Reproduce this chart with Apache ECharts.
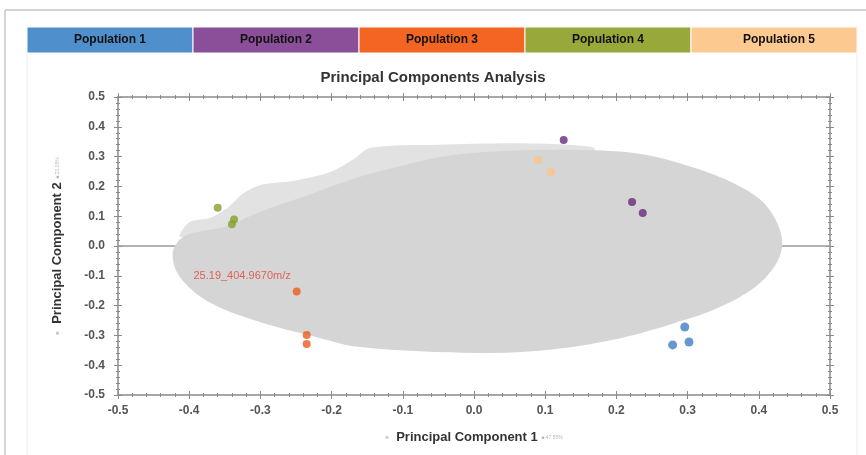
<!DOCTYPE html>
<html>
<head>
<meta charset="utf-8">
<script src="https://cdn.jsdelivr.net/npm/echarts@6/dist/echarts.min.js"></script>
<style>
  html, body { margin: 0; padding: 0; background: #ffffff; }
  #chart { width: 866px; height: 455px; }
</style>
</head>
<body>
<div id="chart"></div>
<script>
// Population scores on the first two principal components
const populations = ['Population 1', 'Population 2', 'Population 3', 'Population 4', 'Population 5'];
const bandColors = ['#4f8fcc', '#8a4f98', '#f26522', '#98a83a', '#fcc991'];
const dotColors = ['#3e7ec6', '#66297d', '#ec5a1e', '#86a02c', '#fcc58a'];

const pop1 = [[0.296, -0.272], [0.279, -0.332], [0.302, -0.322]];
const pop2 = [[0.126, 0.356], [0.222, 0.148], [0.237, 0.111]];
const pop3 = [[-0.249, -0.153], [-0.235, -0.299], [-0.235, -0.329]];
const pop4 = [[-0.360, 0.128], [-0.337, 0.089], [-0.340, 0.073]];
const pop5 = [[0.090, 0.289], [0.108, 0.248]];

// Outline of the dense variable-loading cloud (solid core)
const cloudCore = [
  [-0.423, -0.020], [-0.405, 0.035], [-0.350, 0.065], [-0.300, 0.115], [-0.240, 0.165],
  [-0.170, 0.225], [-0.100, 0.270], [-0.030, 0.305], [0.050, 0.320], [0.150, 0.322],
  [0.230, 0.310], [0.299, 0.270], [0.364, 0.211], [0.412, 0.131], [0.433, 0.003],
  [0.408, -0.110], [0.350, -0.200], [0.280, -0.260], [0.195, -0.315], [0.103, -0.349],
  [0.008, -0.359], [-0.160, -0.339], [-0.230, -0.300], [-0.301, -0.255], [-0.371, -0.190],
  [-0.413, -0.104]
];
// Sparser fringe of loading labels along the upper-left edge
const cloudFringe = [
  [-0.412, 0.030], [-0.400, 0.080], [-0.370, 0.095], [-0.345, 0.130], [-0.325, 0.175],
  [-0.300, 0.205], [-0.250, 0.220], [-0.200, 0.250], [-0.170, 0.290], [-0.145, 0.330],
  [-0.050, 0.340], [0.050, 0.345], [0.130, 0.340], [0.170, 0.325], [0.120, 0.250],
  [-0.100, 0.200], [-0.300, 0.060]
];

const markedLabel = '25.19_404.9670m/z';
const xTicks = { min: -0.5, max: 0.5, interval: 0.1 };
const yTicks = { min: -0.5, max: 0.5, interval: 0.1 };

const FONT = '"Liberation Sans", Arial, sans-serif';
const axisGray = '#8a8a8a';

function polygonSeries(points, color, z, smooth) {
  return {
    type: 'custom',
    silent: true,
    z: z,
    data: [0],
    renderItem: function (params, api) {
      return {
        type: 'polygon',
        shape: { points: points.map(p => api.coord(p)), smooth: smooth },
        style: { fill: color }
      };
    }
  };
}

function dotSeries(name, data, color, extra) {
  return Object.assign({
    name: name,
    type: 'scatter',
    data: data,
    symbolSize: 8,
    z: 5,
    itemStyle: { color: color }
  }, extra || {});
}

function makeAxis(kind, position, inside, withLabels, drawLine, ticks, extra) {
  return Object.assign({
    type: 'value',
    position: position,
    min: ticks.min, max: ticks.max, interval: ticks.interval,
    axisLine: { show: drawLine, onZero: false, lineStyle: { color: axisGray, width: 1.5 } },
    axisTick: { show: true, inside: inside, length: 4, lineStyle: { color: axisGray, width: 1 } },
    minorTick: { show: true, splitNumber: 5, length: 2, lineStyle: { color: axisGray, width: 1 } },
    splitLine: { show: false },
    minorSplitLine: { show: false },
    axisLabel: withLabels ? {
      show: true, fontFamily: FONT, fontSize: 12, fontWeight: 'bold', color: '#555555',
      margin: kind === 'x' ? 10 : 13,
      formatter: v => v.toFixed(1)
    } : { show: false }
  }, extra || {});
}

const headerGraphics = [];
const bandLeft = 27, bandW = 166, bandTop = 27, bandH = 26;
populations.forEach((name, i) => {
  headerGraphics.push({
    type: 'rect', silent: true,
    shape: { x: bandLeft + i * bandW, y: bandTop, width: bandW, height: bandH },
    style: { fill: bandColors[i], stroke: '#ffffff', lineWidth: 1 }
  });
  headerGraphics.push({
    type: 'text', silent: true,
    x: bandLeft + i * bandW + bandW / 2 + (i === 4 ? 5 : 0), y: bandTop + bandH / 2,
    style: {
      text: name, fill: '#111111', font: 'bold 12px ' + FONT,
      textAlign: 'center', textVerticalAlign: 'middle'
    }
  });
});

const chart = echarts.init(document.getElementById('chart'), null, { renderer: 'canvas' });

chart.setOption({
  animation: false,
  backgroundColor: '#ffffff',
  title: {
    text: 'Principal Components Analysis',
    left: 'center', top: 65,
    textStyle: { fontFamily: FONT, fontSize: 15, fontWeight: 'bold', color: '#333333' }
  },
  grid: { left: 118, right: 36, top: 97, bottom: 60, containLabel: false },
  xAxis: [
    makeAxis('x', 'bottom', false, true, true, xTicks, {
      name: '{sq|\u25A0}  Principal Component 1 {sm|\u25A0 47.55%}',
      nameLocation: 'middle', nameGap: 36,
      nameTextStyle: {
        fontFamily: FONT, fontSize: 13, fontWeight: 'bold', color: '#333333',
        rich: {
          sq: { fontSize: 6, color: '#d0d0d0' },
          sm: { fontSize: 5, color: '#b8b8b8', fontWeight: 'normal' }
        }
      }
    }),
    makeAxis('x', 'bottom', true, false, false, xTicks),
    makeAxis('x', 'top', true, false, true, xTicks),
    makeAxis('x', 'top', false, false, false, xTicks)
  ],
  yAxis: [
    makeAxis('y', 'left', false, true, true, yTicks, {
      name: '{sq|\u25A0}  Principal Component 2 {sm|\u25A0 21.05%}',
      nameLocation: 'middle', nameGap: 54,
      nameTextStyle: {
        fontFamily: FONT, fontSize: 13, fontWeight: 'bold', color: '#333333',
        rich: {
          sq: { fontSize: 6, color: '#c8c8c8' },
          sm: { fontSize: 5, color: '#b8b8b8', fontWeight: 'normal' }
        }
      }
    }),
    makeAxis('y', 'left', true, false, false, yTicks),
    makeAxis('y', 'right', true, false, true, yTicks),
    makeAxis('y', 'right', false, false, false, yTicks)
  ],
  graphic: [
    // outer frame
    { type: 'line', silent: true, z: -10, shape: { x1: 5, y1: 10, x2: 866, y2: 10 }, style: { stroke: '#c6c6c6', lineWidth: 1.5 } },
    { type: 'line', silent: true, z: -10, shape: { x1: 5, y1: 10, x2: 5, y2: 455 }, style: { stroke: '#c6c6c6', lineWidth: 1.5 } },
    // inner panel
    { type: 'rect', silent: true, z: -10, shape: { x: 27, y: 27, width: 830, height: 440 }, style: { fill: '#ffffff', stroke: '#ececec', lineWidth: 1 } }
  ].concat(headerGraphics),
  series: [
    {
      type: 'line', data: [], silent: true, z: 1,
      markLine: {
        z: 1,
        silent: true, symbol: 'none', label: { show: false },
        lineStyle: { color: '#9a9a9a', width: 1.5, type: 'solid' },
        data: [{ yAxis: 0 }]
      }
    },
    polygonSeries(cloudFringe, '#e2e2e2', 2, 0.3),
    polygonSeries(cloudCore, '#d5d5d5', 3, 0.35),
    dotSeries(populations[0], pop1, dotColors[0], { symbolSize: 9 }),
    dotSeries(populations[1], pop2, dotColors[1]),
    dotSeries(populations[2], pop3, dotColors[2], {
      label: {
        show: true,
        formatter: p => (p.dataIndex === 0 ? markedLabel : ''),
        position: 'left', distance: 2, offset: [0, -16],
        fontFamily: FONT, fontSize: 11, color: '#e0453a'
      }
    }),
    dotSeries(populations[3], pop4, dotColors[3]),
    dotSeries(populations[4], pop5, dotColors[4], { itemStyle: { color: dotColors[4], opacity: 0.85 } })
  ]
});
</script>
</body>
</html>
